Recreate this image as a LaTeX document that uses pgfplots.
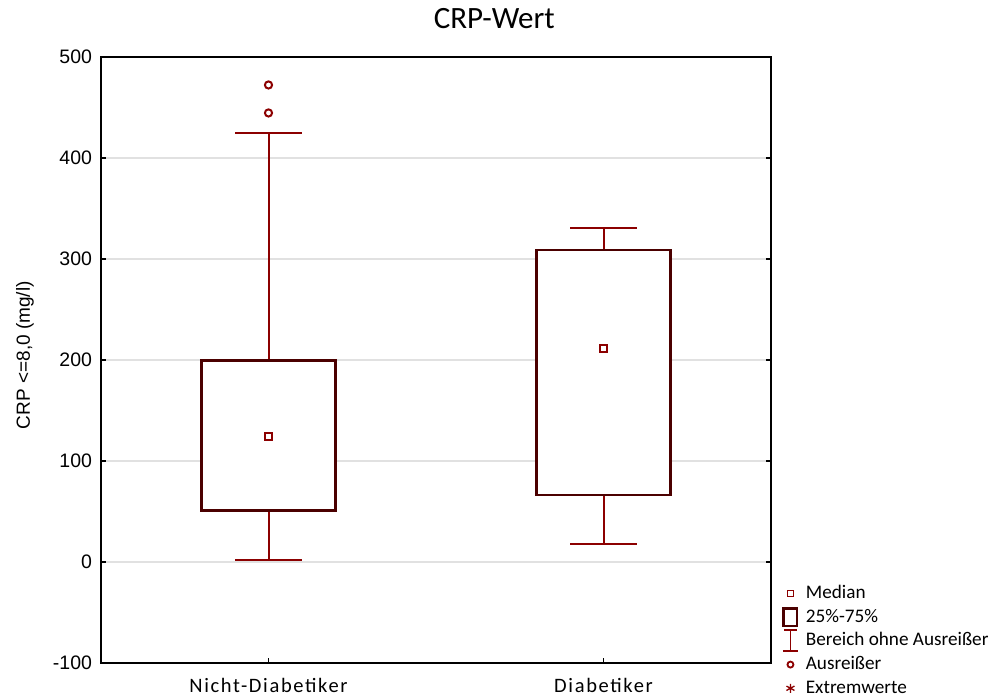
\documentclass[border=0pt]{standalone}
\usepackage{fontspec}
\setmainfont{Carlito}
\newfontfamily\arial{Liberation Sans}
\newfontfamily\xlab[LetterSpace=8]{Carlito}
\usepackage{pgfplots}
\pgfplotsset{compat=1.18}
\definecolor{whisk}{RGB}{140,0,0}
\definecolor{boxc}{RGB}{75,0,0}
\definecolor{gridc}{RGB}{225,225,225}
\begin{document}
\begin{tikzpicture}
\begin{axis}[
  scale only axis, width=670pt, height=606pt,
  xmin=0.5, xmax=2.5, ymin=-100, ymax=500,
  xtick={1,2}, xticklabels={Nicht-Diabetiker,Diabetiker},
  ytick={-100,0,...,500},
  xtick pos=left,
  tick align=inside, major tick length=5pt,
  tick style={black, line width=1.5pt},
  axis line style={black, line width=2pt},
  ymajorgrids, grid style={gridc, line width=1.5pt},
  /pgf/number format/assume math mode=true,
  yticklabel style={font=\arial\fontsize{19.5}{23}\selectfont, xshift=-5.5pt},
  xticklabel style={font=\xlab\fontsize{20.5}{24}\selectfont, anchor=base, yshift=-29pt},
  ylabel={CRP <=8,0 (mg/l)},
  ylabel style={font=\arial\fontsize{19}{23}\selectfont, at={(axis description cs:-0.1134,0.508)}, anchor=center},
  title={CRP-Wert},
  title style={font=\fontsize{31}{36}\selectfont, at={(axis description cs:0.587,1)}, anchor=base, yshift=22pt},
  legend style={at={(axis description cs:1.0165,0.1343)}, anchor=north west, draw=none, fill=none, inner sep=0pt, outer sep=0pt, row sep=0pt, column sep=7pt, font=\fontsize{19.2}{22}\selectfont, nodes={inner sep=0pt, text height=14pt, text depth=4pt}, cells={anchor=west}},
]
% whiskers
\addplot[forget plot, whisk, line width=2pt] coordinates {(1,199.5) (1,425)};
\addplot[forget plot, whisk, line width=2pt] coordinates {(0.9,425) (1.1,425)};
\addplot[forget plot, whisk, line width=2pt] coordinates {(1,50.8) (1,2)};
\addplot[forget plot, whisk, line width=2pt] coordinates {(0.9,2) (1.1,2)};
\addplot[forget plot, whisk, line width=2pt] coordinates {(2,309) (2,331)};
\addplot[forget plot, whisk, line width=2pt] coordinates {(1.9,331) (2.1,331)};
\addplot[forget plot, whisk, line width=2pt] coordinates {(2,66.3) (2,17.8)};
\addplot[forget plot, whisk, line width=2pt] coordinates {(1.9,17.8) (2.1,17.8)};
% boxes
\addplot[forget plot, draw=boxc, fill=white, line width=2.5pt, line join=miter] coordinates {(1,50.8) (1.2,50.8) (1.2,199.5) (0.8,199.5) (0.8,50.8) (1,50.8)};
\addplot[forget plot, draw=boxc, fill=white, line width=2.5pt, line join=miter] coordinates {(2,66.3) (2.2,66.3) (2.2,309) (1.8,309) (1.8,66.3) (2,66.3)};
% medians
\addplot[forget plot, only marks, mark=square, mark size=3.6pt, mark options={draw=whisk, line width=2pt, fill=white}] coordinates {(1,124) (2,211)};
% outliers
\addplot[forget plot, only marks, mark=o, mark size=3.6pt, mark options={draw=whisk, line width=2pt, fill=white}] coordinates {(1,472.3) (1,444.6)};
\addlegendimage{legend image code/.code={\path[draw=none,fill=none] (0,-11.85pt) rectangle (16pt,11.85pt); \draw[whisk, line width=1.8pt, fill=none] (5pt,-3pt) rectangle (11pt,3pt);}}
\addlegendentry{Median}
\addlegendimage{legend image code/.code={\path[draw=none,fill=none] (0,-11.85pt) rectangle (16pt,11.85pt); \draw[boxc, line width=2.5pt, fill=none] (1.25pt,-8.75pt) rectangle (14.75pt,8.75pt);}}
\addlegendentry{25\%-75\%}
\addlegendimage{legend image code/.code={\path[draw=none,fill=none] (0,-11.85pt) rectangle (16pt,11.85pt); \draw[whisk, line width=1.8pt] (0.5pt,-10.5pt)--(15.5pt,-10.5pt) (8pt,-10.5pt)--(8pt,10.5pt) (1.5pt,10.5pt)--(14.5pt,10.5pt);}}
\addlegendentry{Bereich ohne Ausreißer}
\addlegendimage{legend image code/.code={\path[draw=none,fill=none] (0,-11.85pt) rectangle (16pt,11.85pt); \draw[whisk, line width=1.8pt, fill=none] (8pt,0) circle (3pt);}}
\addlegendentry{Ausreißer}
\addlegendimage{legend image code/.code={\path[draw=none,fill=none] (0,-11.85pt) rectangle (16pt,11.85pt); \draw[whisk, line width=1.3pt] (8pt,-4.5pt)--(8pt,4.5pt) (4pt,-2.2pt)--(12pt,2.2pt) (4pt,2.2pt)--(12pt,-2.2pt);}}
\addlegendentry{Extremwerte}
\coordinate (sw) at (rel axis cs:0,0);
\coordinate (ne) at (rel axis cs:1,1);
\end{axis}
\pgfresetboundingbox
\path ([shift={(-101pt,-33pt)}]sw) rectangle ([shift={(218pt,57pt)}]ne);
\end{tikzpicture}
\end{document}
